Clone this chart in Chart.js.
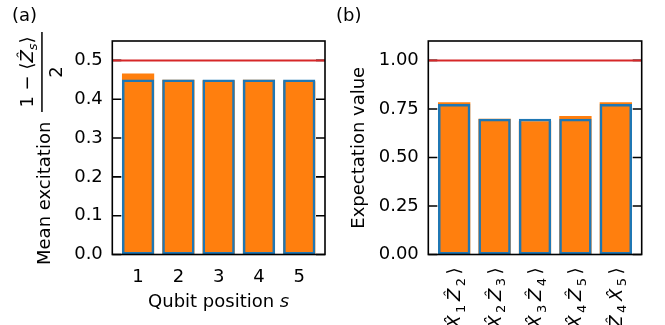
<!DOCTYPE html>
<html>
<head>
<meta charset="utf-8">
<script src="https://cdn.jsdelivr.net/npm/chart.js@4"></script>
<style>
  body { margin: 0; background: #fff; }
  #wrap { position: relative; width: 665px; height: 325px; overflow: hidden; }
  canvas { position: absolute; top: 0; }
  #chartA { left: 0; }
  #chartB { left: 332px; }
</style>
</head>
<body>
<div id="wrap">
  <canvas id="chartA" width="332" height="325"></canvas>
  <canvas id="chartB" width="333" height="325"></canvas>
</div>
<script>
// (a) mean excitation per qubit
const qubitPositions = [1, 2, 3, 4, 5];
const excitationMeasured = [0.466, 0.450, 0.449, 0.450, 0.446];
const excitationTheory = [0.451, 0.451, 0.451, 0.451, 0.451];
const excitationIdeal = 0.5;
const excitationTicks = [0, 0.1, 0.2, 0.3, 0.4, 0.5];

// (b) stabilizer expectation values
const stabilizerPositions = [1, 2, 3, 4, 5];
const stabilizerLabels = [
  "⟨X\u0302\u2081Z\u0302\u2082⟩",
  "⟨X\u0302\u2082Z\u0302\u2083⟩",
  "⟨X\u0302\u2083Z\u0302\u2084⟩",
  "⟨X\u0302\u2084Z\u0302\u2085⟩",
  "⟨Z\u0302\u2084X\u0302\u2085⟩"
];
const stabilizerMeasured = [0.785, 0.699, 0.687, 0.713, 0.785];
const stabilizerTheory = [0.776, 0.700, 0.700, 0.700, 0.776];
const stabilizerIdeal = 1.0;
const stabilizerTicks = [0, 0.25, 0.5, 0.75, 1.0];

const FONT = "DejaVu Sans";
const FS = 18;
Chart.defaults.font.family = FONT;
Chart.defaults.font.size = FS;
Chart.defaults.color = "#000";

const fnt = (size, italic) => (italic ? "italic " : "") + size + "px '" + FONT + "'";

// ideal line, inward ticks on both sides and the box
const framePlugin = {
  id: "frame",
  beforeDatasetsDraw(chart) {
    const { ctx, chartArea: a, scales } = chart;
    ctx.save();
    ctx.strokeStyle = "#000";
    ctx.lineWidth = 1.6;
    scales.y.ticks.forEach((t) => {
      const py = scales.y.getPixelForValue(t.value);
      ctx.beginPath();
      ctx.moveTo(a.left, py); ctx.lineTo(a.left + 9, py);
      ctx.moveTo(a.right, py); ctx.lineTo(a.right - 9, py);
      ctx.stroke();
    });
    ctx.restore();
  },
  afterDatasetsDraw(chart, args, opts) {
    const { ctx, chartArea: a, scales } = chart;
    ctx.save();
    const py = scales.y.getPixelForValue(opts.ideal);
    ctx.strokeStyle = "#d62728";
    ctx.lineWidth = 2;
    ctx.beginPath();
    ctx.moveTo(a.left, py); ctx.lineTo(a.right, py);
    ctx.stroke();
    ctx.strokeStyle = "#000";
    ctx.lineWidth = 1.6;
    ctx.strokeRect(a.left, a.top, a.right - a.left, a.bottom - a.top);
    ctx.restore();
  }
};

function rotated(ctx, x, y, fn) {
  ctx.save();
  ctx.translate(x, y);
  ctx.rotate(-Math.PI / 2);
  fn();
  ctx.restore();
}

// split a label like "⟨X̂₁Ẑ₂⟩" into math-like runs
function mathRuns(label) {
  const runs = [];
  const chars = Array.from(label);
  for (let i = 0; i < chars.length; i++) {
    const c = chars[i];
    const code = c.charCodeAt(0);
    if (code >= 0x2080 && code <= 0x2089) {
      runs.push({ t: String(code - 0x2080), f: fnt(Math.round(FS * 0.7)), dy: 4.5, pad: 3.5 });
    } else if (/[A-Za-z]/.test(c)) {
      let t = c;
      if (chars[i + 1] === "\u0302") { t += "\u0302"; i++; }
      runs.push({ t: t, f: fnt(FS, true), dy: 0, pad: 2.5 });
    } else {
      runs.push({ t: c, f: fnt(FS), dy: 0, pad: 0.5 });
    }
  }
  return runs;
}

const labelsA = {
  id: "labelsA",
  afterDraw(chart) {
    const { ctx, chartArea: a } = chart;
    ctx.save();
    ctx.fillStyle = "#000";
    ctx.textBaseline = "alphabetic";
    ctx.font = fnt(FS);
    ctx.textAlign = "left";
    ctx.fillText("(a)", 12, 20.5);

    // x title with italic s
    const up = "Qubit position ";
    ctx.font = fnt(FS);
    const w1 = ctx.measureText(up).width;
    ctx.font = fnt(FS, true);
    const w2 = ctx.measureText("s").width;
    const x0 = (a.left + a.right) / 2 - (w1 + w2) / 2;
    ctx.font = fnt(FS);
    ctx.fillText(up, x0, 306.5);
    ctx.font = fnt(FS, true);
    ctx.fillText("s", x0 + w1, 306.5);

    // y title: Mean excitation (1 - <Z_s>)/2
    rotated(ctx, 49.5, 265, () => {
      ctx.font = fnt(FS);
      ctx.textAlign = "left";
      ctx.fillText("Mean excitation", 0, 0);
      const f0 = 153, f1 = 233, fc = (f0 + f1) / 2;
      ctx.fillRect(f0, -8.3, f1 - f0, 1.5);
      ctx.textAlign = "center";
      ctx.fillText("2", fc, 12);
      const parts = [
        { t: "1 − ⟨", f: fnt(FS), dy: 0 },
        { t: "Z\u0302", f: fnt(FS, true), dy: 0 },
        { t: "s", f: fnt(Math.round(FS * 0.7), true), dy: 3.5 },
        { t: "⟩", f: fnt(FS), dy: 0 }
      ];
      let total = 0;
      parts.forEach((p) => { ctx.font = p.f; p.w = ctx.measureText(p.t).width; total += p.w; });
      let u = fc - total / 2;
      ctx.textAlign = "left";
      parts.forEach((p) => { ctx.font = p.f; ctx.fillText(p.t, u, -16.5 + p.dy); u += p.w; });
    });
    ctx.restore();
  }
};

const labelsB = {
  id: "labelsB",
  afterDraw(chart) {
    const { ctx, chartArea: a, scales } = chart;
    ctx.save();
    ctx.fillStyle = "#000";
    ctx.font = fnt(FS);
    ctx.textBaseline = "alphabetic";
    ctx.textAlign = "left";
    ctx.fillText("(b)", 4, 20.5);
    rotated(ctx, 31.5, (a.top + a.bottom) / 2, () => {
      ctx.textAlign = "center";
      ctx.fillText("Expectation value", 0, 0);
    });
    // rotated stabilizer tick labels, end of text just under the axis
    stabilizerPositions.forEach((pos, i) => {
      const px = scales.x.getPixelForValue(pos);
      const runs = mathRuns(stabilizerLabels[i]);
      let total = 0;
      runs.forEach((r) => { ctx.font = r.f; r.w = ctx.measureText(r.t).width + r.pad; total += r.w; });
      rotated(ctx, px, a.bottom + 12.5, () => {
        ctx.textAlign = "left";
        let u = -total;
        runs.forEach((r) => { ctx.font = r.f; ctx.fillText(r.t, u, 6 + r.dy); u += r.w; });
      });
    });
    ctx.restore();
  }
};

function makePanel(canvasId, cfg) {
  const pts = (arr) => cfg.positions.map((x, i) => ({ x: x, y: arr[i] }));
  return new Chart(document.getElementById(canvasId), {
    type: "bar",
    data: {
      datasets: [
        {
          label: "theory",
          data: pts(cfg.theory),
          backgroundColor: "rgba(0,0,0,0)",
          borderColor: "#1f77b4",
          borderWidth: 2.5,
          borderSkipped: false,
          grouped: false,
          order: 1,
          barPercentage: 0.8,
          categoryPercentage: 1
        },
        {
          label: "measured",
          data: pts(cfg.measured),
          backgroundColor: "#ff7f0e",
          borderWidth: 0,
          grouped: false,
          order: 2,
          barPercentage: 0.8,
          categoryPercentage: 1
        }
      ]
    },
    options: {
      responsive: false,
      animation: false,
      devicePixelRatio: 1,
      layout: { padding: { left: 0, right: cfg.padRight, top: 41, bottom: 0 } },
      plugins: {
        legend: { display: false },
        tooltip: { enabled: false },
        frame: { ideal: cfg.ideal }
      },
      scales: {
        x: {
          type: "linear",
          offset: false,
          min: 0.36,
          max: 5.64,
          grid: { display: false, drawTicks: false },
          border: { display: false },
          afterBuildTicks: (s) => { s.ticks = cfg.positions.map((v) => ({ value: v })); },
          afterFit: (s) => { s.height = 70.5; },
          ticks: {
            display: cfg.showXTicks,
            autoSkip: false,
            padding: 12,
            maxRotation: 0,
            callback: (v) => String(v)
          }
        },
        y: {
          min: 0,
          max: cfg.ymax,
          grid: { display: false, drawTicks: false },
          border: { display: false },
          afterBuildTicks: (s) => { s.ticks = cfg.yTicks.map((v) => ({ value: v })); },
          afterFit: (s) => { s.width = cfg.yWidth; },
          ticks: {
            padding: 9.5,
            callback: (v) => Number(v).toFixed(cfg.decimals)
          }
        }
      }
    },
    plugins: [framePlugin, cfg.labels]
  });
}

makePanel("chartA", {
  positions: qubitPositions,
  measured: excitationMeasured,
  theory: excitationTheory,
  ideal: excitationIdeal,
  yTicks: excitationTicks,
  ymax: 0.55,
  decimals: 1,
  yWidth: 112.3,
  padRight: 7,
  showXTicks: true,
  labels: labelsA
});

makePanel("chartB", {
  positions: stabilizerPositions,
  measured: stabilizerMeasured,
  theory: stabilizerTheory,
  ideal: stabilizerIdeal,
  yTicks: stabilizerTicks,
  ymax: 1.1,
  decimals: 2,
  yWidth: 96.3,
  padRight: 23.3,
  showXTicks: false,
  labels: labelsB
});
</script>
</body>
</html>
